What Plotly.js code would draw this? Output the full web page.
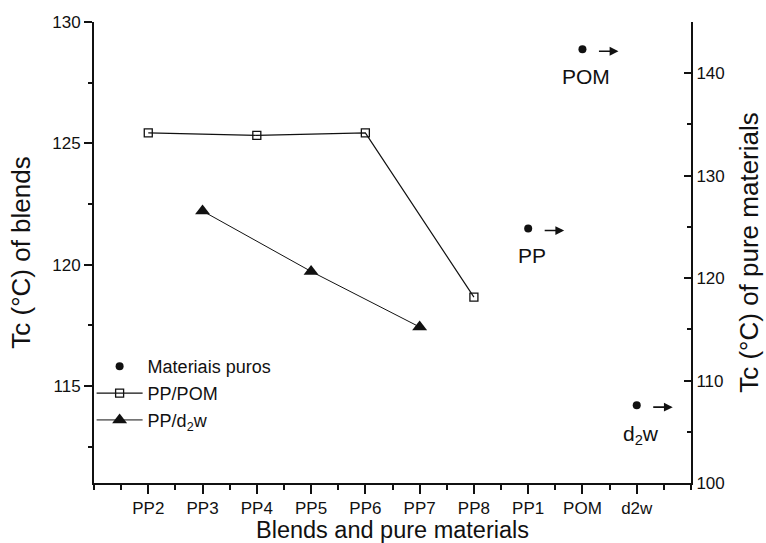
<!DOCTYPE html>
<html>
<head>
<meta charset="utf-8">
<script src="https://cdn.plot.ly/plotly-3.0.1.min.js"></script>
<style>html,body{margin:0;padding:0;background:#fff;}#chart{width:766px;height:543px;}</style>
</head>
<body>
<div id="chart"></div>
<script>
// ---- data ----
const categories = ['PP2', 'PP3', 'PP4', 'PP5', 'PP6', 'PP7', 'PP8', 'PP1', 'POM', 'd2w'];

const ppPomCats = ['PP2', 'PP4', 'PP6', 'PP8'];
const ppPomTc = [125.43, 125.33, 125.43, 118.66];

const ppD2wCats = ['PP3', 'PP5', 'PP7'];
const ppD2wTc = [122.21, 119.72, 117.43];

const pureCats = ['PP1', 'POM', 'd2w'];
const pureTc = [124.84, 142.34, 107.6];
const pureLabels = ['PP', 'POM', 'd<sub>2</sub>w'];

const seriesNames = ['Materiais puros', 'PP/POM', 'PP/d<sub>2</sub>w'];

// ---- helpers ----
const pos = c => categories.indexOf(c) + 1;
const FONT = 'Liberation Sans, Arial, Helvetica, sans-serif';
const INK = '#111';

const tickVals = categories.map(pos);
const xRange = [0, categories.length + 1];
const minorVals = [xRange[0]].concat(tickVals.map(v => v - 0.5)).concat([tickVals[tickVals.length - 1] + 0.5, xRange[1]]);

const traces = [
  {
    x: pureCats.map(pos), y: pureTc, name: seriesNames[0],
    xaxis: 'x', yaxis: 'y2', type: 'scatter', mode: 'markers',
    marker: {symbol: 'circle', size: 8, color: INK},
    legendgroup: 'a'
  },
  {
    x: ppPomCats.map(pos), y: ppPomTc, name: seriesNames[1],
    xaxis: 'x', yaxis: 'y', type: 'scatter', mode: 'lines+markers',
    line: {color: INK, width: 1.2},
    marker: {symbol: 'square-open', size: 8, color: INK, line: {width: 1.3, color: INK}},
    legendgroup: 'b'
  },
  {
    x: ppD2wCats.map(pos), y: ppD2wTc, name: seriesNames[2],
    xaxis: 'x', yaxis: 'y', type: 'scatter', mode: 'lines+markers',
    line: {color: INK, width: 1},
    marker: {symbol: 'triangle-up', size: 13, color: INK},
    legendgroup: 'c'
  }
];

const annotations = [];
pureCats.forEach((c, i) => {
  annotations.push({
    x: pos(c), y: pureTc[i], xref: 'x', yref: 'y2',
    xshift: 36, yshift: -2,
    showarrow: true, ax: -21, ay: 0, text: '',
    arrowhead: 2, arrowsize: 1.1, arrowwidth: 1.6, arrowcolor: INK
  });
  annotations.push({
    x: pos(c), y: pureTc[i], xref: 'x', yref: 'y2',
    xshift: 4, yshift: (c === 'd2w' ? -30 : -27),
    showarrow: false, text: pureLabels[i],
    font: {family: FONT, size: 21, color: INK}
  });
});

const axisCommon = {
  showline: true, linecolor: INK, linewidth: 2,
  showgrid: false, zeroline: false,
  tickcolor: INK, tickwidth: 2,
  tickfont: {family: FONT, size: 17, color: INK}
};

const layout = {
  width: 766, height: 543,
  margin: {l: 94, r: 75, t: 22, b: 60},
  paper_bgcolor: '#fff', plot_bgcolor: '#fff',
  font: {family: FONT, color: INK},
  showlegend: true,
  legend: {
    x: -0.004, xanchor: 'left', y: 0.293, yanchor: 'top',
    bgcolor: 'rgba(0,0,0,0)', borderwidth: 0,
    itemwidth: 46, tracegroupgap: 0.5, traceorder: 'grouped',
    font: {family: FONT, size: 18, color: INK}
  },
  xaxis: Object.assign({}, axisCommon, {
    range: xRange, tickmode: 'array', tickvals: tickVals, ticktext: categories,
    ticks: 'outside', ticklen: 9,
    minor: {tickmode: 'array', tickvals: minorVals, ticks: 'outside', ticklen: 5, tickwidth: 2, tickcolor: INK},
    title: {text: 'Blends and pure materials', font: {family: FONT, size: 23.5, color: INK}, standoff: 14}
  }),
  xaxis2: Object.assign({}, axisCommon, {
    overlaying: 'x', side: 'top', anchor: 'y',
    range: xRange, tickmode: 'array', tickvals: tickVals, ticktext: categories,
    showticklabels: false, ticks: 'inside', ticklen: 8,
    minor: {tickmode: 'array', tickvals: minorVals, ticks: 'inside', ticklen: 4, tickwidth: 2, tickcolor: INK}
  }),
  yaxis: Object.assign({}, axisCommon, {
    range: [111, 130], tickmode: 'linear', tick0: 115, dtick: 5,
    ticks: 'outside', ticklen: 8,
    minor: {tickmode: 'linear', tick0: 112.5, dtick: 2.5, ticks: 'outside', ticklen: 4, tickwidth: 2, tickcolor: INK},
    title: {text: 'Tc (°C) of blends', font: {family: FONT, size: 26, color: INK}, standoff: 14}
  }),
  yaxis2: Object.assign({}, axisCommon, {
    overlaying: 'y', side: 'right', anchor: 'x',
    range: [100, 145], tickmode: 'linear', tick0: 100, dtick: 10,
    ticks: 'inside', ticklen: 7,
    minor: {tickmode: 'linear', tick0: 105, dtick: 10, ticks: 'inside', ticklen: 4, tickwidth: 2, tickcolor: INK},
    title: {text: 'Tc (°C) of pure materials', font: {family: FONT, size: 26, color: INK}, standoff: 16}
  }),
  annotations: annotations
};

Plotly.newPlot('chart', traces, layout, {displayModeBar: false, staticPlot: true});
</script>
</body>
</html>
